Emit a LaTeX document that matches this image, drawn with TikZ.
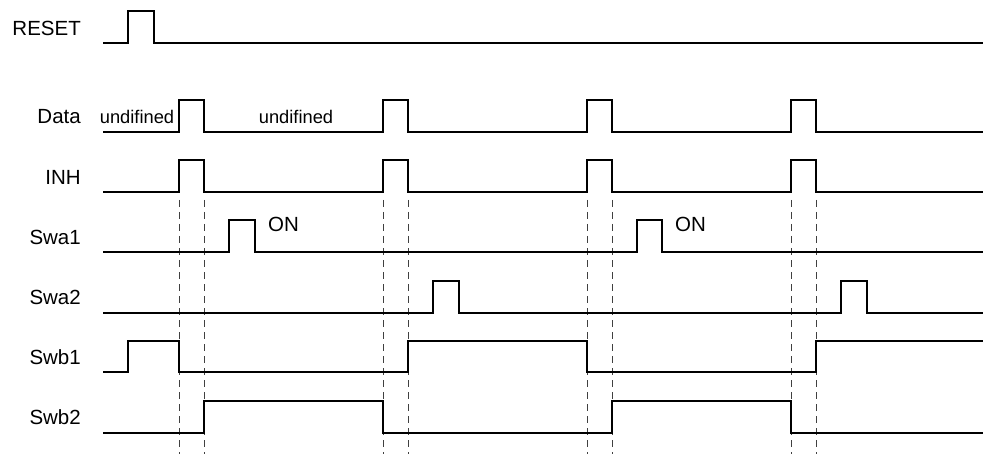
\documentclass[tikz,border=0pt]{standalone}
\usepackage{fontspec}
\setmainfont{Liberation Sans}
\usetikzlibrary{positioning}

\tikzset{
  sig/.style={line width=1.7pt, line join=miter},
  guide/.style={line width=0.8pt, black!75, dash pattern=on 7pt off 5pt},
  lbl/.style={anchor=east, inner sep=0pt, font=\fontsize{20.5}{24}\selectfont},
  txt/.style={inner sep=0pt, font=\fontsize{18.3}{21}\selectfont}
}

\begin{document}
\begin{tikzpicture}[x=1pt,y=-1pt]
  \useasboundingbox (0,0) rectangle (984,454);

  % signal names
  \node[lbl] (reset) at (81,28) {RESET};
  \node[lbl] (data) at (81,117) {Data};
  \node[lbl] (inh) at (81,177) {INH};
  \node[lbl] (swa1) at (81,237) {Swa1};
  \node[lbl] (swa2) at (81,297) {Swa2};
  \node[lbl] (swb1) at (81,357) {Swb1};
  \node[lbl] (swb2) at (81,417) {Swb2};

  % guides
  \draw[guide] (179,200) -- (179,454); \draw[guide] (204,200) -- (204,454);
  \draw[guide] (383,200) -- (383,454); \draw[guide] (408,200) -- (408,454);
  \draw[guide] (587,200) -- (587,454); \draw[guide] (612,200) -- (612,454);
  \draw[guide] (791,200) -- (791,454); \draw[guide] (816,200) -- (816,454);

  % RESET
  \draw[sig] (103,43) -- (128,43) -- (128,11) -- (154,11) -- (154,43) -- (983,43);

  % Data
  \draw[sig] (103,132) -- (179,132) -- (179,100) -- (204,100) -- (204,132)
    -- (383,132) -- (383,100) -- (408,100) -- (408,132)
    -- (587,132) -- (587,100) -- (612,100) -- (612,132)
    -- (791,132) -- (791,100) -- (816,100) -- (816,132) -- (983,132);
  \node[txt] (undef1) at (137,117) {undifined};
  \node[txt] (undef2) at (296,117) {undifined};

  % INH
  \draw[sig] (103,192) -- (179,192) -- (179,160) -- (204,160) -- (204,192)
    -- (383,192) -- (383,160) -- (408,160) -- (408,192)
    -- (587,192) -- (587,160) -- (612,160) -- (612,192)
    -- (791,192) -- (791,160) -- (816,160) -- (816,192) -- (983,192);

  % Swa1
  \draw[sig] (103,252) -- (229,252) -- (229,220) -- (255,220) -- (255,252)
    -- (637,252) -- (637,220) -- (662,220) -- (662,252) -- (983,252);
  \node[lbl, anchor=west] (on1) at (268,224) {ON};
  \node[lbl, anchor=west] (on2) at (675,224) {ON};

  % Swa2
  \draw[sig] (103,313) -- (433,313) -- (433,281) -- (459,281) -- (459,313)
    -- (841,313) -- (841,281) -- (867,281) -- (867,313) -- (983,313);

  % Swb1
  \draw[sig] (103,372) -- (128,372) -- (128,341) -- (179,341) -- (179,372)
    -- (408,372) -- (408,341) -- (587,341) -- (587,372)
    -- (816,372) -- (816,341) -- (983,341);

  % Swb2
  \draw[sig] (103,433) -- (204,433) -- (204,401) -- (383,401) -- (383,433)
    -- (612,433) -- (612,401) -- (791,401) -- (791,433) -- (983,433);
\end{tikzpicture}
\end{document}
